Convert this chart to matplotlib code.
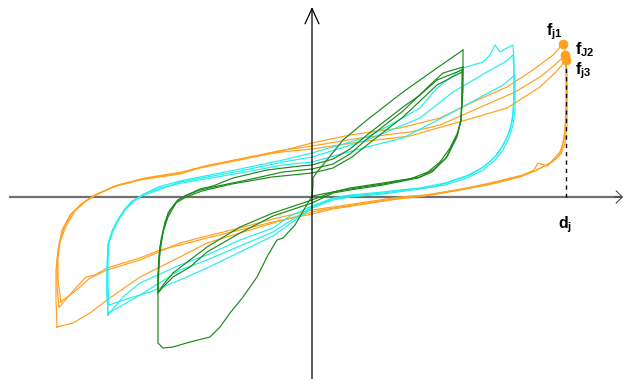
import numpy as np
import matplotlib
matplotlib.use("Agg")
import matplotlib.pyplot as plt

plt.rcParams['mathtext.fontset'] = 'custom'
plt.rcParams['mathtext.rm'] = 'Liberation Sans'
plt.rcParams['mathtext.bf'] = 'Liberation Sans:bold'
plt.rcParams['mathtext.it'] = 'Liberation Sans:italic'

# --- hysteresis loops, (displacement, force) ---
orange_1 = [(-255, -130), (-256, -103), (-256, -73), (-254, -53), (-250, -33), (-242, -18),
            (-232, -8), (-219, 1), (-199, 10), (-172, 17), (-132, 23), (-112, 29), (-72, 37),
            (-39, 44), (0, 54), (38, 62), (88, 69), (128, 79), (161, 95), (195, 110),
            (221, 127), (241, 142), (251, 153), (253, 147), (254, 122), (254, 92), (253, 67),
            (250, 49), (246, 40), (235, 31), (226, 34), (222, 27), (211, 22), (178, 14),
            (145, 7), (115, 2), (88, -1), (55, -6), (21, -11), (0, -15), (-39, -26),
            (-72, -36), (-105, -46), (-132, -60), (-172, -80), (-205, -103), (-222, -116),
            (-239, -126), (-255, -130)]
orange_2 = [(-253, -110), (-255, -88), (-255, -65), (-253, -48), (-248, -31), (-240, -16),
            (-229, -6), (-217, 2), (-197, 11), (-170, 18), (-132, 24), (-107, 31), (-67, 39),
            (-34, 46), (0, 51), (48, 59), (98, 65), (128, 72), (178, 94), (203, 105),
            (228, 120), (244, 133), (253, 142), (254, 132), (255, 107), (254, 77), (252, 57),
            (248, 45), (238, 34), (223, 26), (208, 20), (176, 12), (143, 6), (113, 1),
            (86, -2), (53, -7), (21, -12), (0, -17), (-39, -25), (-72, -33), (-105, -41),
            (-132, -48), (-152, -53), (-172, -61), (-205, -71), (-217, -78), (-226, -80),
            (-239, -94), (-250, -107), (-253, -110)]
orange_3 = [(-251, -105), (-254, -83), (-254, -61), (-252, -45), (-246, -29), (-237, -14),
            (-226, -4), (-214, 3), (-194, 12), (-167, 19), (-130, 25), (-102, 32), (-62, 40),
            (-30, 45), (0, 48), (48, 55), (98, 61), (161, 79), (195, 89), (228, 110),
            (244, 125), (254, 137), (255, 122), (255, 97), (255, 72), (253, 54), (249, 43),
            (240, 35), (225, 27), (208, 21), (177, 13), (144, 7), (114, 2), (88, 0),
            (54, -5), (21, -10), (0, -13), (-39, -22), (-72, -31), (-105, -39), (-132, -46),
            (-172, -63), (-205, -73), (-222, -81), (-239, -96), (-249, -103), (-251, -105)]

cyan_1 = [(-204, -118), (-205, -98), (-205, -73), (-204, -48), (-200, -35), (-195, -25),
          (-188, -14), (-180, -5), (-170, 2), (-154, 10), (-132, 16), (-112, 20), (-72, 28),
          (-29, 37), (0, 44), (21, 50), (55, 60), (78, 72), (108, 89), (125, 109),
          (151, 129), (171, 135), (178, 142), (183, 152), (188, 145), (195, 149), (201, 152),
          (202, 137), (202, 107), (201, 82), (198, 67), (193, 55), (185, 42), (173, 31),
          (158, 22), (138, 15), (121, 10), (88, 7), (71, 5), (38, 2), (21, -1), (0, -9),
          (-22, -19), (-39, -31), (-72, -43), (-105, -58), (-132, -68), (-172, -86),
          (-189, -100), (-200, -113), (-204, -118)]
cyan_2 = [(-204, -116), (-205, -96), (-205, -71), (-204, -47), (-200, -34), (-195, -24),
          (-188, -13), (-180, -4), (-170, 1), (-132, 15), (-72, 26), (-29, 35), (0, 40),
          (55, 57), (108, 79), (141, 105), (175, 125), (193, 135), (201, 142), (202, 127),
          (202, 97), (200, 75), (196, 62), (190, 50), (182, 39), (170, 29), (154, 21),
          (133, 14), (108, 9), (71, 4), (38, 1), (21, -2), (0, -10), (-39, -35),
          (-72, -49), (-105, -63), (-132, -73), (-172, -98), (-189, -108), (-202, -115),
          (-204, -116)]
cyan_3 = [(-203, -108), (-204, -88), (-204, -65), (-203, -46), (-199, -34), (-194, -24),
          (-187, -13), (-178, -4), (-168, 3), (-152, 9), (-130, 14), (-72, 24), (-29, 32),
          (0, 35), (55, 50), (91, 59), (141, 85), (191, 112), (203, 122), (203, 107),
          (203, 87), (201, 72), (197, 59), (191, 47), (183, 37), (171, 27), (155, 19),
          (133, 12), (108, 8), (71, 3), (38, 0), (21, -3), (0, -11), (-39, -39),
          (-72, -55), (-105, -71), (-132, -83), (-162, -95), (-182, -101), (-197, -106),
          (-203, -108)]

green_0 = [(0, 0), (1, 12), (1, 19), (5, 25), (15, 37), (31, 57), (55, 77), (91, 105),
           (125, 129), (151, 147)]
green_1 = [(151, 147), (151, 127), (150, 102), (149, 77), (146, 65), (138, 49), (128, 35),
           (116, 25), (98, 18), (71, 13), (38, 8), (21, 5), (0, 1), (-7, -11), (-17, -28),
           (-29, -41), (-35, -43), (-44, -58), (-55, -80), (-69, -100), (-82, -116),
           (-92, -130), (-102, -140), (-122, -145), (-139, -150), (-149, -151), (-154, -146),
           (-154, -123), (-154, -93), (-153, -68), (-152, -50), (-148, -31), (-144, -16),
           (-135, -4), (-127, 1), (-112, 8), (-99, 11), (-79, 19), (-45, 27), (-12, 31),
           (0, 32), (21, 38), (38, 48), (55, 62), (91, 90), (108, 102), (125, 117), (150, 127)]
green_2 = [(150, 127), (150, 102), (149, 77), (145, 60), (135, 40), (121, 27), (108, 20),
           (71, 14), (38, 9), (21, 5), (0, -3), (-39, -16), (-72, -30), (-105, -50),
           (-122, -63), (-139, -76), (-149, -88), (-154, -96), (-154, -78), (-153, -58),
           (-151, -43), (-147, -25), (-142, -13), (-134, -3), (-125, 2), (-112, 7),
           (-99, 10), (-65, 17), (-29, 25), (0, 28), (21, 33), (38, 43), (55, 58),
           (91, 86), (118, 112), (131, 124), (151, 130)]
green_3 = [(151, 130), (151, 107), (149, 77), (145, 62), (134, 39), (120, 25), (106, 19),
           (71, 12), (38, 7), (21, 4), (0, -6), (-39, -19), (-72, -36), (-105, -55),
           (-122, -70), (-139, -80), (-149, -90), (-154, -96), (-154, -80), (-152, -55),
           (-149, -35), (-144, -20), (-136, -6), (-126, 0), (-110, 6), (-80, 13), (-40, 20),
           (0, 24), (21, 29), (40, 40), (60, 56), (91, 80), (125, 112), (150, 125)]

peak_d = [251, 253, 254]
peak_f = [153, 142, 137]
peak_labels = [r'$\mathbf{f_{j1}}$', r'$\mathbf{f_{J2}}$', r'$\mathbf{f_{j3}}$']

ORANGE = '#FFA01E'
CYAN = '#22EEEE'
GREEN = '#1A8A1A'

fig = plt.figure(figsize=(6.24, 3.79), dpi=100)
ax = fig.add_axes([0, 0, 1, 1])
ax.set_xlim(-312, 312)
ax.set_ylim(-182, 197)
ax.axis('off')

# axes through the origin
ax.plot([-302, 308], [0, 0], color='#707070', lw=1.6, zorder=1)
ax.annotate('', xy=(311, 0), xytext=(303, 0),
            arrowprops=dict(arrowstyle='->,head_length=0.45,head_width=0.45',
                            color='#333333', lw=0.7, shrinkA=0, shrinkB=0))
ax.annotate('', xy=(0, 190), xytext=(0, -182),
            arrowprops=dict(arrowstyle='->,head_length=1.1,head_width=0.5',
                            color='black', lw=0.9, shrinkA=0, shrinkB=0))

for loops, col in [((orange_1, orange_2, orange_3), ORANGE),
                   ((cyan_1, cyan_2, cyan_3), CYAN),
                   ((green_0, green_1, green_2, green_3), GREEN)]:
    for loop in loops:
        pts = np.array(loop)
        ax.plot(pts[:, 0], pts[:, 1], color=col, lw=0.85, zorder=2)

# peak forces and target displacement
ax.plot([peak_d[-1], peak_d[-1]], [peak_f[-1], 0], color='black', lw=1.0,
        ls=(0, (3, 3)), zorder=3)
ax.plot(peak_d, peak_f, 'o', color=ORANGE, ms=6, zorder=4)

ax.text(234, 162, peak_labels[0], fontsize=11.5, va='baseline', ha='left')
ax.text(263, 143, peak_labels[1], fontsize=11.5, va='baseline', ha='left')
ax.text(263, 123, peak_labels[2], fontsize=11.5, va='baseline', ha='left')
ax.text(246, -31, r'$\mathbf{d_{j}}$', fontsize=11.5, va='baseline', ha='left')

fig.savefig('out.png', dpi=100)
